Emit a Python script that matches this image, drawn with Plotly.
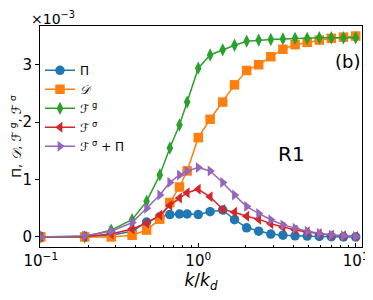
import plotly.graph_objects as go

# wavenumber k/k_d
k = [0.1, 0.19, 0.28, 0.38, 0.47, 0.57, 0.66, 0.76, 0.85, 1.0, 1.19, 1.43, 1.70, 2.03,
     2.42, 2.89, 3.45, 4.12, 4.92, 5.87, 7.0, 8.36, 10.0]
# values in units of 1e-3
pi_vals = [0.0, 0.0, 0.03, 0.10, 0.26, 0.35, 0.39, 0.40, 0.40, 0.39, 0.44, 0.47, 0.30, 0.16,
           0.10, 0.05, 0.03, 0.02, 0.015, 0.01, 0.005, 0.0, 0.0]
d_vals = [0.0, 0.0, 0.0, 0.03, 0.12, 0.31, 0.60, 0.87, 1.15, 1.73, 2.05, 2.35, 2.65, 2.90,
          3.00, 3.14, 3.27, 3.35, 3.39, 3.43, 3.46, 3.48, 3.50]
fg_vals = [0.0, 0.0, 0.12, 0.30, 0.62, 1.08, 1.55, 1.95, 2.35, 2.94, 3.17, 3.26, 3.34, 3.41,
           3.43, 3.44, 3.45, 3.46, 3.46, 3.47, 3.47, 3.47, 3.47]
fs_vals = [0.0, 0.01, 0.05, 0.14, 0.24, 0.38, 0.55, 0.68, 0.77, 0.83, 0.70, 0.48, 0.43, 0.36,
           0.31, 0.23, 0.17, 0.12, 0.085, 0.055, 0.03, 0.02, 0.01]
fspi_vals = [0.0, 0.02, 0.10, 0.25, 0.50, 0.73, 0.95, 1.08, 1.15, 1.21, 1.15, 0.95, 0.73, 0.53,
             0.41, 0.30, 0.21, 0.15, 0.10, 0.065, 0.035, 0.02, 0.01]

series = [
    ("Π", pi_vals, "#1f77b4", "circle"),
    ("<i>𝒟</i>", d_vals, "#ff7f0e", "square"),
    ("<i>ℱ</i><sup> g</sup>", fg_vals, "#2ca02c", "diamond-tall"),
    ("<i>ℱ</i><sup> σ</sup>", fs_vals, "#d62728", "triangle-left"),
    ("<i>ℱ</i><sup> σ</sup> + Π", fspi_vals, "#9467bd", "triangle-right"),
]

fig = go.Figure()
for name, vals, col, sym in series:
    fig.add_trace(go.Scatter(
        x=k, y=vals, name=name, mode="lines+markers",
        line=dict(color=col, width=1.5),
        marker=dict(color=col, symbol=sym, size=9.5, line=dict(width=0)),
    ))

font = "DejaVu Sans, Arial, sans-serif"
# page body adds an 8px margin; figure sized to fit the 373x300 window
fig.update_layout(
    width=365, height=292,
    margin=dict(l=32, r=11, t=18, b=53),
    paper_bgcolor="white", plot_bgcolor="white",
    font=dict(family=font, size=14, color="black"),
    showlegend=True,
    legend=dict(x=0.0, y=0.865, xanchor="left", yanchor="top",
                bgcolor="rgba(0,0,0,0)", font=dict(size=12),
                tracegroupgap=0, itemwidth=30),
    xaxis=dict(
        type="log", range=[-1.005, 1.04], automargin=False,
        tickvals=[0.1, 1, 10],
        ticktext=["10<sup>−1</sup>", "10<sup>0</sup>", "10<sup>1</sup>"],
        ticks="inside", ticklen=4, tickcolor="black",
        tickfont=dict(size=15),
        minor=dict(ticks="inside", ticklen=2.5, tickcolor="black",
                   tickvals=[0.2, 0.3, 0.4, 0.5, 0.6, 0.7, 0.8, 0.9,
                             2, 3, 4, 5, 6, 7, 8, 9]),
        showline=True, linecolor="black", linewidth=1, mirror=True,
        showgrid=False, zeroline=False,
        title=dict(text="<i>k</i>/<i>k<sub>d</sub></i>", standoff=2),
    ),
    yaxis=dict(
        range=[-0.175, 3.675], automargin=False,
        tickvals=[0, 1, 2, 3],
        ticks="outside", ticklen=4, tickcolor="black",
        tickfont=dict(size=15),
        showline=True, linecolor="black", linewidth=1, mirror=True,
        showgrid=False, zeroline=False,
        title=dict(text="Π, <i>𝒟</i>, <i>ℱ</i><sup> g</sup>, <i>ℱ</i><sup> σ</sup>",
                   standoff=2, font=dict(size=13)),
    ),
    annotations=[
        dict(text="×10<sup>−3</sup>", xref="paper", yref="paper", x=-0.035, y=1.0,
             xanchor="left", yanchor="bottom", yshift=-3, showarrow=False,
             font=dict(size=14)),
        dict(text="(b)", xref="paper", yref="paper", x=1.0, y=0.84,
             xanchor="right", yanchor="middle", showarrow=False, font=dict(size=18)),
        dict(text="R1", xref="paper", yref="paper", x=0.78, y=0.42,
             xanchor="center", yanchor="middle", showarrow=False, font=dict(size=20)),
    ],
)

fig.write_html("out.html")
